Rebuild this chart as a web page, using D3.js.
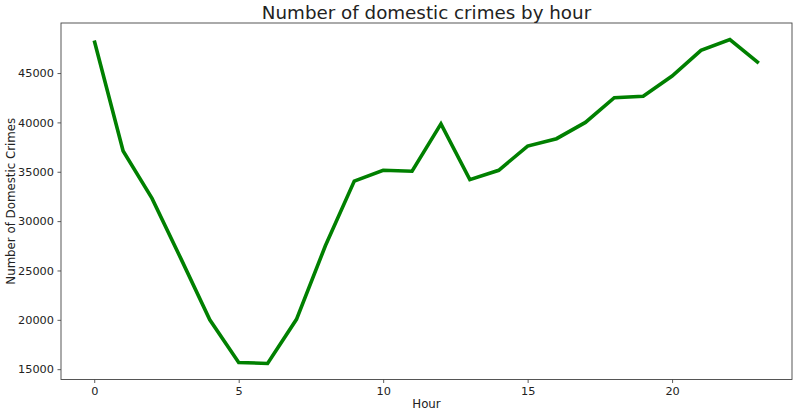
<!DOCTYPE html>
<html><head><meta charset="utf-8">
<script src="https://cdn.jsdelivr.net/npm/d3@7"></script>
<style>body{margin:0;background:#fff}svg{display:block}text{font-family:"DejaVu Sans",sans-serif;fill:#222}</style>
</head><body>
<script>
const hours = d3.range(0, 24);
const crimes = [48300, 37100, 32300, 26200, 20000, 15680, 15580, 20050, 27500, 34050,
  35150, 35050, 39850, 34200, 35150, 37600, 38350, 40000, 42500, 42650,
  44700, 47300, 48400, 46000];
const xTicks = [0, 5, 10, 15, 20];
const yTicks = [15000, 20000, 25000, 30000, 35000, 40000, 45000];

const W = 799, H = 415;
const m = {l: 61, r: 7, t: 23, b: 35.5};
const svg = d3.select("body").append("svg").attr("width", W).attr("height", H);
const x = d3.scaleLinear().domain([-1.15, 24.15]).range([m.l, W - m.r]);
const y = d3.scaleLinear().domain([13955, 50070]).range([H - m.b, m.t]);

const gx = svg.append("g").attr("transform", `translate(0,${H - m.b})`)
  .call(d3.axisBottom(x).tickValues(xTicks).tickSize(3.5).tickPadding(3.5).tickFormat(d3.format("d")));
const gy = svg.append("g").attr("transform", `translate(${m.l},0)`)
  .call(d3.axisLeft(y).tickValues(yTicks).tickSize(3.5).tickPadding(3.5).tickFormat(d3.format("d")));
[gx, gy].forEach(g => {
  g.select(".domain").remove();
  g.selectAll("line").attr("stroke", "#333").attr("stroke-width", 0.8);
  g.selectAll("text").style("font-family", "DejaVu Sans").style("font-size", "11.3px").attr("fill", "#222");
});

svg.append("path").datum(hours)
  .attr("fill", "none").attr("stroke", "#008000").attr("stroke-width", 3.6)
  .attr("stroke-linejoin", "miter")
  .attr("d", d3.line().x(h => x(h)).y(h => y(crimes[h])));

svg.append("rect").attr("x", m.l).attr("y", m.t).attr("width", W - m.r - m.l).attr("height", H - m.b - m.t)
  .attr("fill", "none").attr("stroke", "#444").attr("stroke-width", 0.9);

svg.append("text").attr("x", (m.l + W - m.r) / 2).attr("y", 18.5).attr("text-anchor", "middle")
  .style("font-size", "18.3px").text("Number of domestic crimes by hour");
svg.append("text").attr("x", (m.l + W - m.r) / 2).attr("y", 408).attr("text-anchor", "middle")
  .style("font-size", "11.8px").text("Hour");
svg.append("text").attr("transform", `translate(15,${(m.t + H - m.b) / 2}) rotate(-90)`).attr("text-anchor", "middle")
  .style("font-size", "11.8px").text("Number of Domestic Crimes");
</script>
</body></html>
